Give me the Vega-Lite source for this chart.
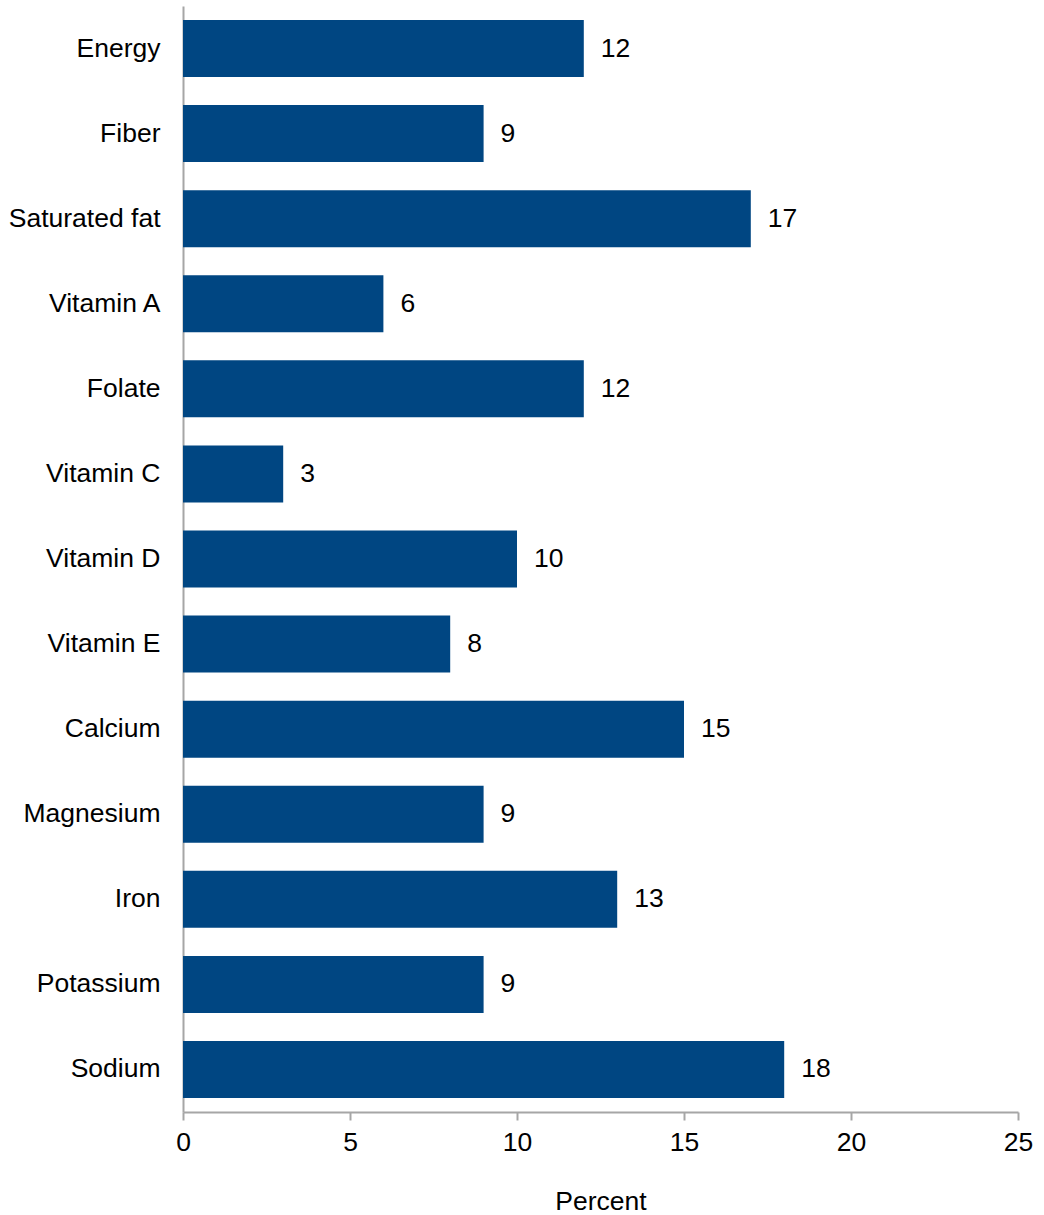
{
  "$schema": "https://vega.github.io/schema/vega-lite/v6.json",
  "width": 835,
  "height": 1106,
  "autosize": "none",
  "padding": {"left": 183, "top": 6, "right": 26, "bottom": 103},
  "background": "white",
  "config": {
    "view": {"stroke": null},
    "font": "Liberation Sans"
  },
  "data": {
    "values": [
      {"nutrient": "Energy", "percent": 12},
      {"nutrient": "Fiber", "percent": 9},
      {"nutrient": "Saturated fat", "percent": 17},
      {"nutrient": "Vitamin A", "percent": 6},
      {"nutrient": "Folate", "percent": 12},
      {"nutrient": "Vitamin C", "percent": 3},
      {"nutrient": "Vitamin D", "percent": 10},
      {"nutrient": "Vitamin E", "percent": 8},
      {"nutrient": "Calcium", "percent": 15},
      {"nutrient": "Magnesium", "percent": 9},
      {"nutrient": "Iron", "percent": 13},
      {"nutrient": "Potassium", "percent": 9},
      {"nutrient": "Sodium", "percent": 18}
    ]
  },
  "encoding": {
    "y": {
      "field": "nutrient",
      "type": "nominal",
      "sort": null,
      "scale": {"paddingInner": 0.33, "paddingOuter": 0.165},
      "axis": {
        "title": null,
        "ticks": false,
        "domainColor": "#a6a6a6",
        "domainWidth": 2,
        "labelFontSize": 26.5,
        "labelColor": "#000000",
        "labelPadding": 23,
        "labelFont": "Liberation Sans"
      }
    },
    "x": {
      "field": "percent",
      "type": "quantitative",
      "scale": {"domain": [0, 25], "nice": false},
      "axis": {
        "title": "Percent",
        "titleFontSize": 26.5,
        "titleFontWeight": "normal",
        "titleColor": "#000000",
        "titlePadding": 33,
        "titleFont": "Liberation Sans",
        "values": [0, 5, 10, 15, 20, 25],
        "grid": false,
        "domainColor": "#a6a6a6",
        "domainWidth": 2,
        "tickColor": "#a6a6a6",
        "tickWidth": 2,
        "tickSize": 8,
        "labelFontSize": 26.5,
        "labelColor": "#000000",
        "labelPadding": 9,
        "labelFont": "Liberation Sans",
        "labelFlush": false
      }
    }
  },
  "layer": [
    {"mark": {"type": "bar", "color": "#004682"}},
    {
      "mark": {"type": "text", "align": "left", "dx": 17, "fontSize": 26.5, "color": "#000000", "font": "Liberation Sans"},
      "encoding": {"text": {"field": "percent", "type": "quantitative"}}
    }
  ]
}
